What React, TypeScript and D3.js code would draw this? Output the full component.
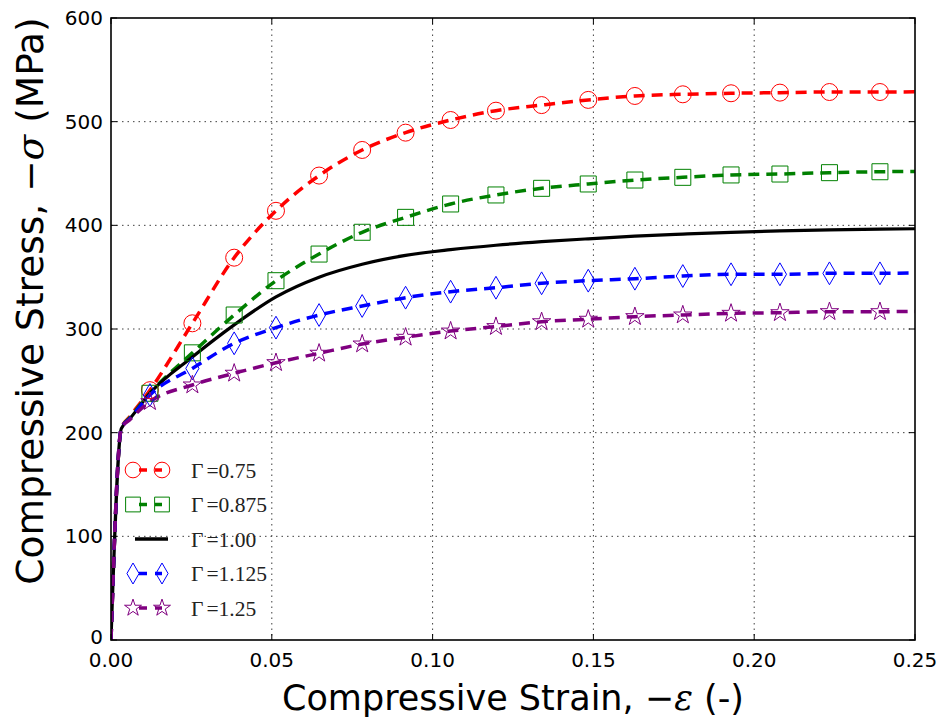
import React from "react";
import * as d3 from "d3";

// Shared strain samples (−ε) for every curve
const strain = [0, 0.0032, 0.006, 0.0121, 0.0253, 0.0383, 0.0513, 0.0647, 0.0781, 0.0916, 0.1056, 0.1197, 0.1339, 0.1484, 0.1629, 0.1778, 0.1928, 0.208, 0.2234, 0.2391, 0.25];

// Compressive stress (MPa) for each Γ
const stress075 = [0, 204, 216, 241, 305.5, 368.8, 414, 448, 472.7, 489.4, 501.6, 510.6, 516, 521, 524.8, 526.4, 527.4, 528, 528.6, 528.6, 528.8];
const stress0875 = [0, 204, 215, 238, 277, 313.5, 346.6, 372.3, 393.3, 407.7, 420.6, 429.3, 435.7, 439.9, 443.7, 446.3, 448.6, 449.5, 450.8, 451.7, 452];
const stress100 = [0, 204, 214, 238, 273, 304, 331, 350, 362.5, 371, 376.5, 380.8, 384.2, 387, 389.5, 391.5, 393.3, 394.6, 395.6, 396.3, 396.7];
const stress1125 = [0, 204, 214, 236.3, 262, 286.2, 301.3, 313.5, 322.2, 330.2, 336, 339.8, 344.1, 346.6, 348.5, 351.1, 352.8, 352.8, 353.7, 353.7, 354];
const stress125 = [0, 204, 213, 229.9, 246, 257.3, 267.5, 276.6, 285.5, 292, 298, 302.3, 307, 309.4, 311.9, 313.5, 315.1, 315.7, 316.7, 316.7, 317];

const gammaLabels = ["0.75", "0.875", "1.00", "1.125", "1.25"];
const xTicks = [0, 0.05, 0.1, 0.15, 0.2, 0.25];
const yTicks = [0, 100, 200, 300, 400, 500, 600];

// sample indices that carry a marker (the origin one is clipped by the frame)
const markerIdx = [0, 3, 4, 5, 6, 7, 8, 9, 10, 11, 12, 13, 14, 15, 16, 17, 18, 19];

type Series = {
  label: string;
  values: number[];
  color: string;
  dashed: boolean;
  symbol: d3.SymbolType | null;
  size: number;
};

const series: Series[] = [
  { label: gammaLabels[0], values: stress075, color: "#ff0000", dashed: true, symbol: d3.symbolCircle, size: 227 },
  { label: gammaLabels[1], values: stress0875, color: "#008000", dashed: true, symbol: d3.symbolSquare, size: 256 },
  { label: gammaLabels[2], values: stress100, color: "#000000", dashed: false, symbol: null, size: 0 },
  { label: gammaLabels[3], values: stress1125, color: "#0000ff", dashed: true, symbol: d3.symbolDiamond, size: 150 },
  { label: gammaLabels[4], values: stress125, color: "#800080", dashed: true, symbol: d3.symbolStar, size: 105 },
];

const W = 940;
const H = 719;
const L = 111;
const R = 915;
const T = 18;
const B = 640;

export default function App() {
  const x = d3.scaleLinear().domain([0, 0.25]).range([L, R]);
  const y = d3.scaleLinear().domain([0, 600]).range([B, T]);

  const line = d3
    .line<number>()
    .x((_, i) => x(strain[i]))
    .y((v) => y(v))
    .curve(d3.curveMonotoneX);

  const dash = "11 7";
  const tickFont = "'DejaVu Sans', sans-serif";

  const legendY0 = 470;
  const legendStep = 34.5;

  return (
    <svg width={W} height={H} style={{ position: "absolute", left: 0, top: 0, background: "#fff" }}>
      <defs>
        <clipPath id="plotClip">
          <rect x={L} y={T} width={R - L} height={B - T} />
        </clipPath>
      </defs>
      <rect x={0} y={0} width={W} height={H} fill="#fff" />

      {/* grid */}
      <g stroke="#000" strokeWidth={1} strokeDasharray="1.5 4" opacity={0.75}>
        {xTicks.slice(1, -1).map((t) => (
          <line key={"gx" + t} x1={x(t)} x2={x(t)} y1={T} y2={B} />
        ))}
        {yTicks.slice(1, -1).map((t) => (
          <line key={"gy" + t} x1={L} x2={R} y1={y(t)} y2={y(t)} />
        ))}
      </g>

      {/* curves */}
      <g clipPath="url(#plotClip)">
        {series.map((s) => (
          <path
            key={"l" + s.label}
            d={line(s.values) || ""}
            fill="none"
            stroke={s.color}
            strokeWidth={s.dashed ? 3.5 : 3.2}
            strokeDasharray={s.dashed ? dash : undefined}
          />
        ))}
      </g>

      {/* markers */}
      {series.map((s) =>
        s.symbol ? (
          <g key={"m" + s.label} fill="none" stroke={s.color} strokeWidth={1}>
            {markerIdx.map((i) => (
              <path
                key={i}
                clipPath={i === 0 ? "url(#plotClip)" : undefined}
                transform={`translate(${x(strain[i])},${y(s.values[i])})`}
                d={d3.symbol(s.symbol as d3.SymbolType, i === 0 ? s.size * 0.35 : s.size)() || ""}
              />
            ))}
          </g>
        ) : null
      )}

      {/* frame */}
      <rect x={L} y={T} width={R - L} height={B - T} fill="none" stroke="#000" strokeWidth={1.6} />

      {/* ticks */}
      <g stroke="#000" strokeWidth={1}>
        {xTicks.map((t) => (
          <g key={"tx" + t}>
            <line x1={x(t)} x2={x(t)} y1={B} y2={B - 6} />
            <line x1={x(t)} x2={x(t)} y1={T} y2={T + 6} />
          </g>
        ))}
        {yTicks.map((t) => (
          <g key={"ty" + t}>
            <line x1={L} x2={L + 6} y1={y(t)} y2={y(t)} />
            <line x1={R} x2={R - 6} y1={y(t)} y2={y(t)} />
          </g>
        ))}
      </g>

      {/* tick labels */}
      <g fontFamily={tickFont} fontSize={20} fill="#000">
        {xTicks.map((t) => (
          <text key={"lx" + t} x={x(t)} y={667} textAnchor="middle">
            {d3.format(".2f")(t)}
          </text>
        ))}
        {yTicks.map((t) => (
          <text key={"ly" + t} x={103} y={y(t) + (t === 0 ? 4 : 7)} textAnchor="end">
            {t}
          </text>
        ))}
      </g>

      {/* axis titles */}
      <text x={(L + R) / 2} y={710} textAnchor="middle" fontFamily={tickFont} fontSize={35} fill="#000">
        Compressive Strain,{" "}
        <tspan fontFamily="'DejaVu Serif', serif">−</tspan>
        <tspan fontFamily="'DejaVu Serif', serif" fontStyle="italic">ε</tspan> (-)
      </text>
      <text
        transform={`translate(43,301) rotate(-90)`}
        textAnchor="middle"
        fontFamily={tickFont}
        fontSize={37.5}
        fill="#000"
      >
        Compressive Stress,{" "}
        <tspan fontFamily="'DejaVu Serif', serif">−</tspan>
        <tspan fontFamily="'DejaVu Serif', serif" fontStyle="italic">σ</tspan> (MPa)
      </text>

      {/* legend */}
      {series.map((s, k) => {
        const ly = legendY0 + k * legendStep;
        const xa = 133;
        const xb = 162;
        return (
          <g key={"lg" + s.label}>
            {s.symbol ? (
              <>
                <line x1={xa} x2={xb} y1={ly} y2={ly} stroke={s.color} strokeWidth={3.5} strokeDasharray="8 8" strokeDashoffset={-6} />
                {[xa, xb].map((xx) => (
                  <path
                    key={xx}
                    transform={`translate(${xx},${ly})`}
                    d={d3.symbol(s.symbol as d3.SymbolType, s.size * 0.85)() || ""}
                    fill="none"
                    stroke={s.color}
                    strokeWidth={1}
                  />
                ))}
              </>
            ) : (
              <line x1={135} x2={168} y1={ly} y2={ly} stroke={s.color} strokeWidth={3.5} />
            )}
            <text x={191} y={ly + 7.5} fontFamily="'Liberation Serif', serif" fontSize={21.5} fill="#222">
              Γ<tspan dx={3}>=</tspan>{s.label}
            </text>
          </g>
        );
      })}
    </svg>
  );
}
